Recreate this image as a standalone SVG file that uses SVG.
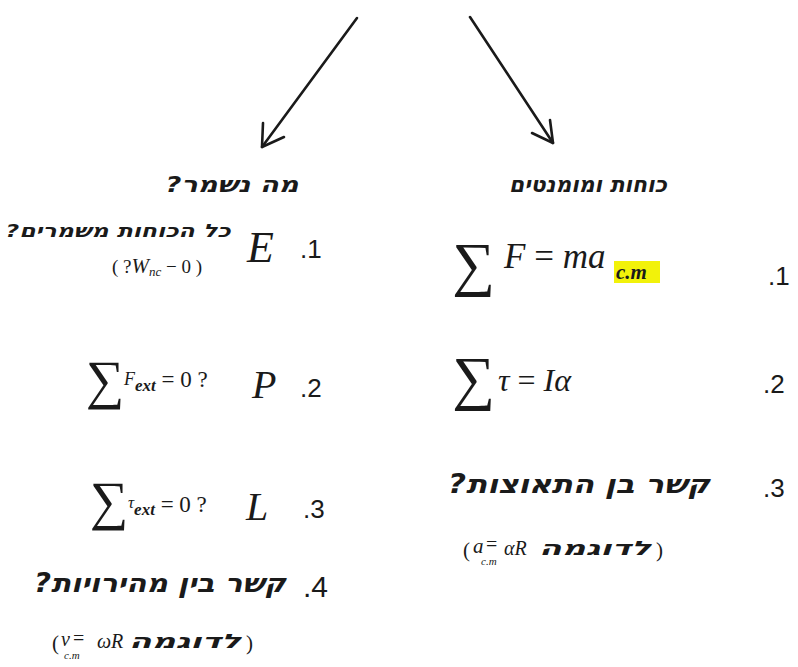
<svg xmlns="http://www.w3.org/2000/svg" width="798" height="667" viewBox="0 0 798 667">
<defs>
<style>
.heb{font-family:"DejaVu Sans","Liberation Sans",sans-serif;font-weight:bold;font-style:oblique;fill:#1a1a1a;direction:rtl;unicode-bidi:embed;text-anchor:middle}
.num{font-family:"Liberation Sans",Arial,sans-serif;fill:#1a1a1a}
.m{font-family:"Liberation Serif","Times New Roman",serif;font-style:normal;font-weight:normal;fill:#1a1a1a}
.mi{font-family:"Liberation Serif","Times New Roman",serif;font-style:italic;fill:#1a1a1a}
.conn{stroke:#1a1a1a;stroke-width:2.6;fill:none;stroke-linecap:round;stroke-linejoin:round}
</style>
</defs>
<rect width="798" height="667" fill="#ffffff"/>
<g id="connectors">
<path class="conn" d="M357,18 L262,147"/>
<path class="conn" d="M263,123 L262,147 L284,137"/>
<path class="conn" d="M470,17 L553,143"/>
<path class="conn" d="M550,120 L553,143 L532,133"/>
</g>
<g id="left-header">
<text class="heb" x="232" y="192" font-size="22" textLength="133" lengthAdjust="spacingAndGlyphs">מה נשמר?</text>
</g>
<g id="right-header">
<text class="heb" x="588" y="192" font-size="22" textLength="158" lengthAdjust="spacingAndGlyphs">כוחות ומומנטים</text>
</g>
<g id="left-item-1">
<text class="num" x="300" y="258" font-size="26">.1</text>
<text class="mi" x="247" y="262" font-size="44">E</text>
<text class="heb" x="118" y="237" font-size="18" textLength="225" lengthAdjust="spacingAndGlyphs">כל הכוחות משמרים?</text>
<text class="m" x="112" y="273" font-size="19">( ?<tspan class="mi" font-size="21">W</tspan><tspan class="mi" font-size="13" dy="3">nc</tspan><tspan dy="-3"> − 0 )</tspan></text>
</g>
<g id="left-item-2">
<text class="num" x="300" y="397" font-size="26">.2</text>
<text class="mi" x="252" y="398" font-size="40">P</text>
<text class="m" x="86" y="398" font-size="54">∑</text>
<text class="mi" x="124" y="385" font-size="18">F<tspan font-size="17" font-weight="bold" dy="6">ext</tspan><tspan class="m" dy="-4" font-size="23"> = 0 ?</tspan></text>
</g>
<g id="left-item-3">
<text class="num" x="303" y="518" font-size="26">.3</text>
<text class="mi" x="246" y="520" font-size="40">L</text>
<text class="m" x="90" y="519" font-size="54">∑</text>
<text class="mi" x="128" y="508" font-size="17">τ<tspan font-size="17" font-weight="bold" dy="7">ext</tspan><tspan class="m" dy="-3" font-size="23"> = 0 ?</tspan></text>
</g>
<g id="left-item-4">
<text class="num" x="303" y="597" font-size="30">.4</text>
<text class="heb" x="160" y="592" font-size="26" textLength="252" lengthAdjust="spacingAndGlyphs">קשר בין מהירויות?</text>
<text class="m" x="52" y="650" font-size="21">(</text>
<text class="mi" x="61" y="646" font-size="20">v</text>
<text class="mi" x="64" y="659" font-size="11">c.m</text>
<text class="m" x="73" y="645" font-size="20">=</text>
<text class="mi" x="97" y="648" font-size="20">ωR</text>
<text class="heb" x="185" y="648" font-size="20" textLength="112" lengthAdjust="spacingAndGlyphs">לדוגמה</text>
<text class="m" x="246" y="650" font-size="21">)</text>
</g>
<g id="right-item-1">
<text class="num" x="768" y="285" font-size="26">.1</text>
<text class="m" x="452" y="284" font-size="60">∑</text>
<text class="mi" x="504" y="268" font-size="35">F <tspan class="m">=</tspan> ma</text>
<rect x="614" y="261" width="46" height="22" fill="#f2f20a"/>
<text class="mi" x="616" y="279" font-size="21" font-weight="bold">c.m</text>
</g>
<g id="right-item-2">
<text class="num" x="763" y="393" font-size="26">.2</text>
<text class="m" x="452" y="398" font-size="60">∑</text>
<text class="mi" x="498" y="391" font-size="32">τ <tspan class="m">=</tspan> Iα</text>
</g>
<g id="right-item-3">
<text class="num" x="763" y="497" font-size="26">.3</text>
<text class="heb" x="579" y="493" font-size="26" textLength="262" lengthAdjust="spacingAndGlyphs">קשר בן התאוצות?</text>
<text class="m" x="463" y="557" font-size="21">(</text>
<text class="mi" x="473" y="553" font-size="21">a</text>
<text class="mi" x="481" y="565" font-size="11">c.m</text>
<text class="m" x="486" y="551" font-size="20">=</text>
<text class="mi" x="504" y="555" font-size="20">αR</text>
<text class="heb" x="595" y="555" font-size="20" textLength="112" lengthAdjust="spacingAndGlyphs">לדוגמה</text>
<text class="m" x="656" y="557" font-size="21">)</text>
</g>
</svg>
